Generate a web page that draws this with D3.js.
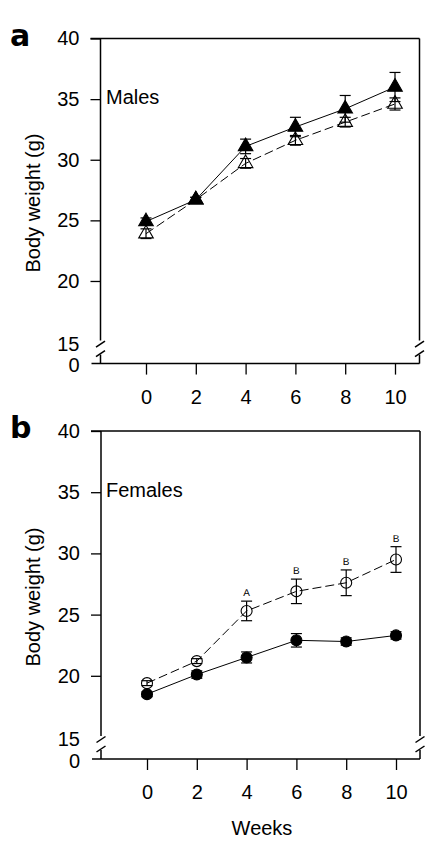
<!DOCTYPE html>
<html><head><meta charset="utf-8">
<script src="https://cdn.jsdelivr.net/npm/d3@7"></script>
<style>html,body{margin:0;padding:0;background:#fff;}svg{display:block;}</style>
</head><body>
<script>
const weeks = [0, 2, 4, 6, 8, 10];
const xTickLabels = ["0", "2", "4", "6", "8", "10"];
const yTicks = [20, 25, 30, 35, 40];
// Panel a: males
const maleFilled = [24.9, 26.7, 31.1, 32.7, 34.2, 36.0];
const maleFilledErr = [0.3, 0.2, 0.6, 0.8, 1.1, 1.2];
const maleOpen = [23.9, 26.7, 29.7, 31.6, 33.1, 34.6];
const maleOpenErr = [0.4, 0.2, 0.4, 0.4, 0.4, 0.5];
// Panel b: females
const femaleFilled = [18.5, 20.1, 21.5, 22.9, 22.8, 23.3];
const femaleFilledErr = [0.2, 0.3, 0.45, 0.55, 0.3, 0.3];
const femaleOpen = [19.4, 21.2, 25.3, 26.9, 27.6, 29.5];
const femaleOpenErr = [0.2, 0.2, 0.8, 1.0, 1.05, 1.05];
const femaleSig = ["", "", "A", "B", "B", "B"];

const W = 433, H = 842;
const FONT = "'Liberation Sans', Arial, Helvetica, sans-serif";
const svg = d3.select("body").append("svg").attr("width", W).attr("height", H)
  .style("font-family", FONT);
svg.append("rect").attr("width", W).attr("height", H).attr("fill", "#fff");

function panel(cfg) {
  const g = svg.append("g");
  const left = cfg.left, right = cfg.right;
  const x = d3.scaleLinear().domain([0, 10]).range([cfg.x0, cfg.x10]);
  const y = d3.scaleLinear().domain([15, 40]).range([cfg.y15, cfg.top]);
  const bottom = cfg.y15 + 22;

  const ya = g.append("g").attr("transform", `translate(${left},0)`)
    .call(d3.axisLeft(y).tickValues(yTicks).tickSize(10).tickPadding(11).tickFormat(d3.format("d")));
  ya.select(".domain").remove();
  ya.selectAll("line").attr("stroke", "#000").attr("stroke-width", 1.3);
  ya.selectAll("text").attr("font-size", 20).attr("font-family", FONT).attr("fill", "#000");

  const xa = g.append("g").attr("transform", `translate(0,${bottom})`)
    .call(d3.axisBottom(x).tickValues(weeks).tickSize(11).tickPadding(15).tickFormat((d, i) => xTickLabels[i]));
  xa.select(".domain").remove();
  xa.selectAll("line").attr("stroke", "#000").attr("stroke-width", 1.3);
  xa.selectAll("text").attr("font-size", 20).attr("font-family", FONT).attr("fill", "#000");

  g.append("text").attr("x", left - 21).attr("y", cfg.y15 + 2).attr("dy", "0.35em")
    .attr("text-anchor", "end").attr("font-size", 20).attr("fill", "#000").text("15");
  g.append("text").attr("x", left - 21).attr("y", bottom + 1.5).attr("dy", "0.35em")
    .attr("text-anchor", "end").attr("font-size", 20).attr("fill", "#000").text("0");

  const fr = g.append("g").attr("stroke", "#000").attr("stroke-width", 1.5).attr("fill", "none");
  fr.append("line").attr("x1", left - 10).attr("x2", right).attr("y1", cfg.top).attr("y2", cfg.top);
  fr.append("line").attr("x1", left - 9).attr("x2", right).attr("y1", bottom).attr("y2", bottom);
  [left, right].forEach(xx => {
    fr.append("line").attr("x1", xx).attr("x2", xx).attr("y1", cfg.top).attr("y2", cfg.y15 - 1);
    fr.append("line").attr("x1", xx).attr("x2", xx).attr("y1", cfg.y15 + 13).attr("y2", bottom);
    [cfg.y15 + 2.5, cfg.y15 + 12].forEach(cy => {
      fr.append("line").attr("x1", xx - 4.5).attr("y1", cy + 3).attr("x2", xx + 4.5).attr("y2", cy - 3);
    });
  });

  g.append("text").attr("x", 10).attr("y", cfg.top + 7).attr("font-size", 30)
    .attr("font-weight", "bold").attr("font-family", "'DejaVu Sans', " + FONT).attr("fill", "#000").text(cfg.letter);
  g.append("text").attr("x", 106).attr("y", y(35) - 2).attr("dy", "0.35em").attr("font-size", 20)
    .attr("fill", "#000").text(cfg.label);
  g.append("text").attr("transform", `translate(40,${cfg.ylabelY}) rotate(-90)`)
    .attr("text-anchor", "middle").attr("font-size", 20).attr("fill", "#000").text("Body weight (g)");

  function series(vals, errs, dashed, filled, shape) {
    const sg = g.append("g");
    sg.append("path").datum(vals)
      .attr("d", d3.line().x((d, i) => x(weeks[i])).y(d => y(d)))
      .attr("fill", "none").attr("stroke", "#000").attr("stroke-width", 1)
      .attr("stroke-dasharray", dashed ? "9,4" : null);
    const eg = sg.append("g").attr("stroke", "#000").attr("stroke-width", 1.2);
    vals.forEach((v, i) => {
      const cx = x(weeks[i]);
      eg.append("line").attr("x1", cx).attr("x2", cx).attr("y1", y(v - errs[i])).attr("y2", y(v + errs[i]));
      [v - errs[i], v + errs[i]].forEach(e => {
        eg.append("line").attr("x1", cx - 5.5).attr("x2", cx + 5.5).attr("y1", y(e)).attr("y2", y(e));
      });
    });
    const sym = d3.symbol().type(shape === "tri" ? d3.symbolTriangle : d3.symbolCircle)
      .size(shape === "tri" ? 92 : 95);
    sg.selectAll("path.m").data(vals).join("path").attr("class", "m")
      .attr("transform", (d, i) => `translate(${x(weeks[i])},${y(d)})`)
      .attr("d", sym)
      .attr("fill", filled ? "#000" : "none").attr("stroke", "#000").attr("stroke-width", 1.1);
    return sg;
  }
  return { g, x, y, series };
}

const pa = panel({ left: 100.5, right: 419.5, top: 38.5, y15: 341.6, x0: 146, x10: 395,
  letter: "a", label: "Males", ylabelY: 203 });
pa.series(maleOpen, maleOpenErr, true, false, "tri");
pa.series(maleFilled, maleFilledErr, false, true, "tri");

const pb = panel({ left: 101, right: 420, top: 431, y15: 737, x0: 147, x10: 396,
  letter: "b", label: "Females", ylabelY: 597 });
pb.series(femaleOpen, femaleOpenErr, true, false, "circ");
pb.series(femaleFilled, femaleFilledErr, false, true, "circ");
femaleSig.forEach((s, i) => {
  if (!s) return;
  pb.g.append("text").attr("x", pb.x(weeks[i])).attr("y", pb.y(femaleOpen[i] + femaleOpenErr[i]) - 5)
    .attr("text-anchor", "middle").attr("font-size", 10).attr("fill", "#000")
    .style("text-rendering", "geometricPrecision").text(s);
});

svg.append("text").attr("x", 262).attr("y", 828).attr("dy", "0.35em").attr("text-anchor", "middle")
  .attr("font-size", 20).attr("fill", "#000").text("Weeks");
</script>
</body></html>
